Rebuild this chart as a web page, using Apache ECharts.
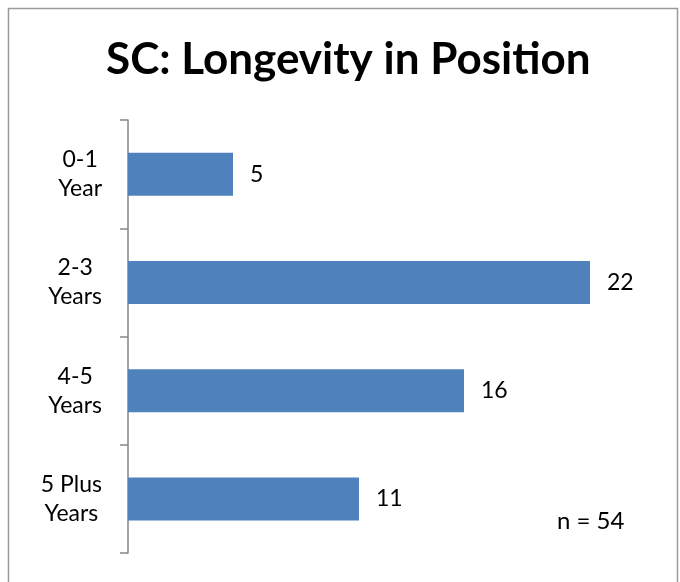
<!DOCTYPE html>
<html>
<head>
    <meta charset="utf-8"/>
    <title>SC: Longevity in Position</title>
    <script src="https://cdn.jsdelivr.net/npm/echarts@6/dist/echarts.min.js"></script>
    <style>
        html, body { margin: 0; padding: 0; background: #fff; }
        #main { width: 680px; height: 582px; }
    </style>
</head>
<body>
<div id="main"></div>
<script>
    // data
    var categories = ['0-1\nYear', '2-3\nYears', '4-5\nYears', '5 Plus\nYears'];
    var counts = [5, 22, 16, 11];
    var sampleNote = 'n = 54';

    var font = 'Lato, "Open Sans", sans-serif';
    var chart = echarts.init(document.getElementById('main'));

    var option = {
        backgroundColor: '#fff',
        animation: false,
        title: {
            text: 'SC: Longevity in Position',
            left: 101,
            top: 33,
            textStyle: {
                fontFamily: font,
                fontWeight: 'bold',
                fontSize: 44,
                color: '#000'
            }
        },
        grid: {
            left: 128,
            top: 120,
            width: 525,
            bottom: 29
        },
        xAxis: {
            type: 'value',
            min: 0,
            max: 25,
            show: false
        },
        yAxis: {
            type: 'category',
            data: categories,
            inverse: true,
            axisLine: { lineStyle: { color: '#868686', width: 1.5 } },
            axisTick: { show: true, length: 8, lineStyle: { color: '#868686', width: 1.5 } },
            axisLabel: {
                align: 'right',
                margin: 26,
                // lines centred inside a right-aligned block, like the original
                formatter: function (v) {
                    return v.split('\n').map(function (s) { return '{c|' + s + '}'; }).join('\n');
                },
                rich: {
                    c: {
                        align: 'center',
                        fontFamily: font,
                        fontSize: 23,
                        lineHeight: 29,
                        color: '#000'
                    }
                }
            }
        },
        series: [{
            type: 'bar',
            data: counts,
            barWidth: 43,
            itemStyle: { color: '#4F81BD' },
            label: {
                show: true,
                position: 'right',
                distance: 17,
                fontFamily: font,
                fontSize: 23,
                color: '#000'
            }
        }],
        graphic: [{
            type: 'rect',
            shape: { x: 8.5, y: 8.5, width: 669, height: 600 },
            style: { fill: 'none', stroke: '#9a9a9a', lineWidth: 1.5 },
            silent: true
        }, {
            type: 'text',
            left: 557,
            top: 509,
            style: {
                text: sampleNote,
                font: '24px ' + font,
                fill: '#000'
            }
        }]
    };
    chart.setOption(option);
</script>
</body>
</html>
